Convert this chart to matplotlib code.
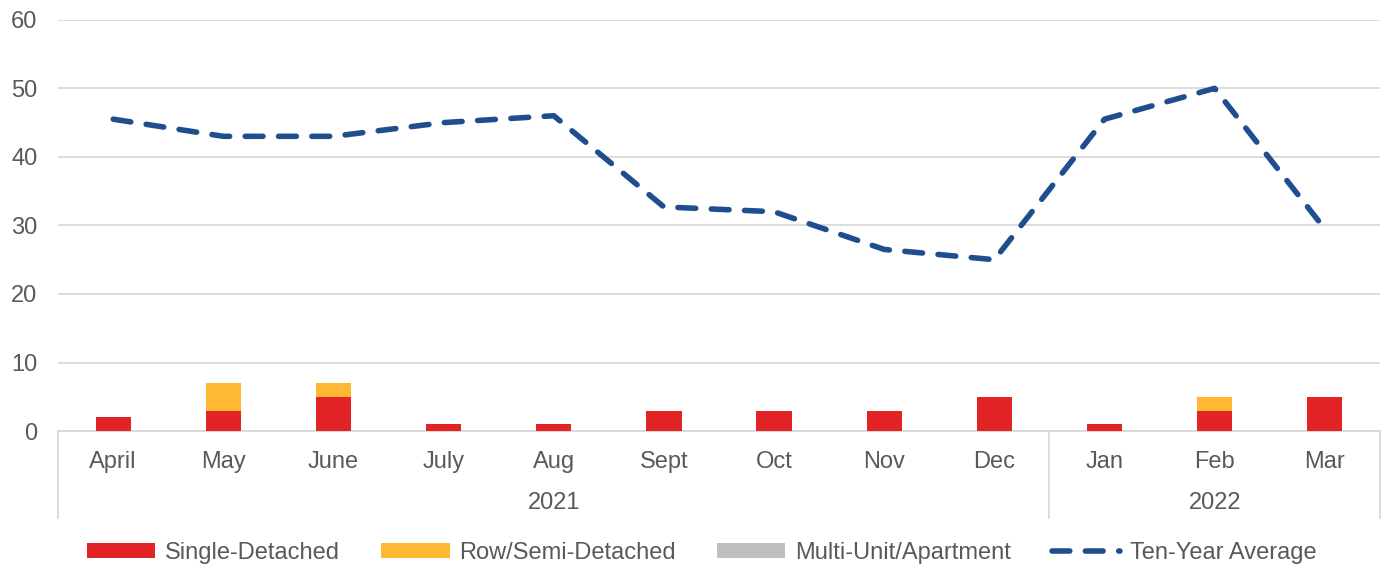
import matplotlib.pyplot as plt
import numpy as np

plt.rcParams['font.family'] = ['Liberation Sans', 'DejaVu Sans']

months = ['April', 'May', 'June', 'July', 'Aug', 'Sept', 'Oct', 'Nov', 'Dec', 'Jan', 'Feb', 'Mar']
years = ['2021', '2022']
year_counts = [9, 3]

single = [2, 3, 5, 1, 1, 3, 3, 3, 5, 1, 3, 5]
row_semi = [0, 4, 2, 0, 0, 0, 0, 0, 0, 0, 2, 0]
multi = [0, 0, 0, 0, 0, 0, 0, 0, 0, 0, 0, 0]
ten_year = [45.5, 43, 43, 45, 46, 32.7, 32, 26.5, 25, 45.5, 50, 29.5]

text_col = '#595959'
grid_col = '#D9D9D9'
fs = 17

fig = plt.figure(figsize=(13.84, 5.65), dpi=100)
ax = fig.add_axes([0.042, 0.237, 0.955, 0.728])

x = np.arange(len(months))
w = 0.32
single = np.array(single)
row_semi = np.array(row_semi)
multi = np.array(multi)
ax.bar(x, single, w, color='#E32427', label='Single-Detached', zorder=3)
ax.bar(x, row_semi, w, bottom=single, color='#FFB833', label='Row/Semi-Detached', zorder=3)
ax.bar(x, multi, w, bottom=single + row_semi, color='#BFBFBF', label='Multi-Unit/Apartment', zorder=3)
ax.plot(x, ten_year, color='#1F4E8F', lw=4, dashes=(3.2, 2.8), dash_capstyle='round',
        label='Ten-Year Average', zorder=4)

ax.set_xlim(-0.5, len(months) - 0.5)
ax.set_ylim(0, 60)
ax.set_yticks(range(0, 61, 10))
ax.yaxis.grid(True, color=grid_col, lw=1.3)
ax.set_axisbelow(True)
for s in ['top', 'right', 'left']:
    ax.spines[s].set_visible(False)
ax.spines['bottom'].set_color(grid_col)
ax.spines['bottom'].set_linewidth(1.3)
ax.tick_params(axis='y', length=0, labelsize=fs, labelcolor=text_col, pad=15)
ax.tick_params(axis='x', length=0, labelsize=fs, labelcolor=text_col, pad=14.5)
ax.set_xticks(x)
ax.set_xticklabels(months)

# year groups
trans = ax.get_xaxis_transform()
start = 0
bounds = [-0.5]
for yr, n in zip(years, year_counts):
    mid = start + (n - 1) / 2
    ax.text(mid, -0.175, yr, transform=trans, ha='center', va='center',
            fontsize=fs, color=text_col)
    start += n
    bounds.append(start - 0.5)
for b in bounds:
    ax.plot([b, b], [0, -0.212], transform=trans, color=grid_col, lw=1.3, clip_on=False)

handles, labels = ax.get_legend_handles_labels()
order = [1, 2, 3, 0]
leg = fig.legend([handles[i] for i in order], [labels[i] for i in order],
                 loc='center', bbox_to_anchor=(0.507, 0.022), ncol=4, frameon=False,
                 fontsize=fs, handlelength=2.9, handleheight=0.6, columnspacing=1.75,
                 handletextpad=0.4)
for t in leg.get_texts():
    t.set_color(text_col)

fig.savefig('out.png', dpi=100)
